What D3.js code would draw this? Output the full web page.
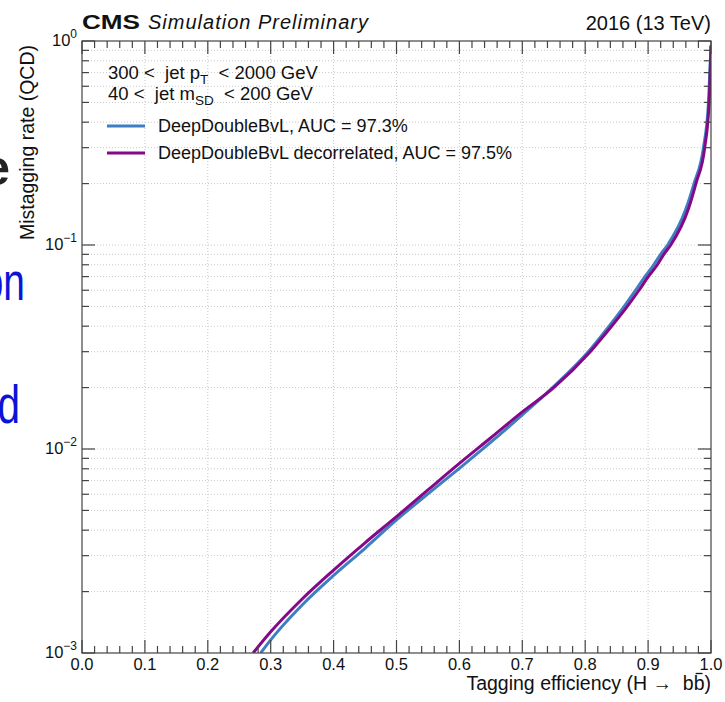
<!DOCTYPE html>
<html>
<head>
<meta charset="utf-8">
<script src="https://cdnjs.cloudflare.com/ajax/libs/d3/7.8.5/d3.min.js"></script>
<style>
  body { margin: 0; background: #fff; }
  text { font-family: "Liberation Sans", Arial, Helvetica, sans-serif; fill: #111; white-space: pre; }
</style>
</head>
<body>
<div id="chart"></div>
<script>
// ROC curves (signal efficiency vs QCD mistag rate)
var effNominal = [0.284, 0.30, 0.35, 0.40, 0.45, 0.50, 0.55, 0.60, 0.65, 0.70, 0.748, 0.805, 0.838, 0.862, 0.880, 0.895, 0.909, 0.920, 0.931, 0.960, 0.973, 0.988, 0.996, 1.0];
var mistagNominal = [1.0e-3, 1.16e-3, 1.72e-3, 2.4e-3, 3.26e-3, 4.49e-3, 6.03e-3, 8.04e-3, 1.08e-2, 1.47e-2, 2.0e-2, 3.0e-2, 4.0e-2, 5.0e-2, 6.0e-2, 7.0e-2, 8.0e-2, 9.0e-2, 0.1, 0.15, 0.2, 0.3, 0.5, 0.95];

var effDecorr = [0.272, 0.30, 0.35, 0.40, 0.45, 0.50, 0.55, 0.60, 0.65, 0.70, 0.750, 0.808, 0.842, 0.867, 0.8855, 0.9003, 0.9147, 0.925, 0.936, 0.964, 0.976, 0.990, 0.997, 1.0];
var mistagDecorr = [1.0e-3, 1.27e-3, 1.84e-3, 2.55e-3, 3.47e-3, 4.66e-3, 6.3e-3, 8.5e-3, 1.135e-2, 1.52e-2, 2.0e-2, 3.0e-2, 4.0e-2, 5.0e-2, 6.0e-2, 7.0e-2, 8.0e-2, 9.0e-2, 0.1, 0.15, 0.2, 0.3, 0.5, 0.95];

var seriesNames = ["DeepDoubleBvL, AUC = 97.3%", "DeepDoubleBvL decorrelated, AUC = 97.5%"];
var seriesColors = ["#3d7fc1", "#85088a"];
var xTicks = [0.0, 0.1, 0.2, 0.3, 0.4, 0.5, 0.6, 0.7, 0.8, 0.9, 1.0];
var yDecades = [1e-3, 1e-2, 1e-1, 1];
var yExponents = ["\u22123", "\u22122", "\u22121", "0"];

var svgWidth = 725, svgHeight = 702;
var plot = { left: 82, right: 711, top: 41, bottom: 653 };

var svg = d3.select("#chart").append("svg")
    .attr("width", svgWidth)
    .attr("height", svgHeight);

var x = d3.scaleLinear().domain([0, 1]).range([plot.left, plot.right]);
var y = d3.scaleLog().domain([1e-3, 1]).range([plot.bottom, plot.top]);

// minor positions
var xMinor = d3.range(0, 1.0001, 0.02).filter(function(v){ return Math.abs(v * 10 - Math.round(v * 10)) > 1e-6; });
var yMinor = [];
[1e-3, 1e-2, 1e-1].forEach(function(d){ for (var k = 2; k <= 9; k++) yMinor.push(d * k); });

// bits of the slide behind the plot, cut at the left edge
svg.append("text").attr("x", 10).attr("y", 185).attr("text-anchor", "end")
    .style("font-size", "50px").style("font-weight", "bold").style("fill", "#222").text("e");
svg.append("text").attr("transform", "translate(25,300) scale(0.72,1)").attr("text-anchor", "end")
    .style("font-size", "54px").style("fill", "#0a14d8").text("on");
svg.append("text").attr("transform", "translate(20,423) scale(0.75,1)").attr("text-anchor", "end")
    .style("font-size", "54px").style("fill", "#0a14d8").text("d");

// grid
var grid = svg.append("g").attr("stroke", "#c8c8c8").attr("stroke-width", 1).attr("stroke-dasharray", "1,2");
grid.selectAll(".gx").data(xTicks.slice(1, -1)).enter().append("line")
    .attr("x1", d => x(d)).attr("x2", d => x(d))
    .attr("y1", plot.top).attr("y2", plot.bottom);
grid.selectAll(".gy").data(yMinor.concat([1e-2, 1e-1])).enter().append("line")
    .attr("x1", plot.left).attr("x2", plot.right)
    .attr("y1", d => y(d)).attr("y2", d => y(d));

// curves
svg.append("clipPath").attr("id", "clip").append("rect")
    .attr("x", plot.left).attr("y", plot.top)
    .attr("width", plot.right - plot.left).attr("height", plot.bottom - plot.top);

var line = d3.line()
    .x(d => x(d[0]))
    .y(d => y(d[1]))
    .curve(d3.curveMonotoneX);

var curves = [
    d3.zip(effNominal, mistagNominal),
    d3.zip(effDecorr, mistagDecorr)
];
svg.append("g").attr("clip-path", "url(#clip)")
    .selectAll("path").data(curves).enter().append("path")
    .attr("d", line)
    .attr("fill", "none")
    .attr("stroke", (d, i) => seriesColors[i])
    .attr("stroke-width", 3);

// frame and ticks
var axisColor = "#444";
svg.append("rect")
    .attr("x", plot.left).attr("y", plot.top)
    .attr("width", plot.right - plot.left).attr("height", plot.bottom - plot.top)
    .attr("fill", "none").attr("stroke", axisColor).attr("stroke-width", 1.2);

var ticks = svg.append("g").attr("stroke", axisColor).attr("stroke-width", 1.2);
function vTicks(data, len) {
    data.forEach(function(v){
        ticks.append("line").attr("x1", x(v)).attr("x2", x(v)).attr("y1", plot.bottom).attr("y2", plot.bottom - len);
        ticks.append("line").attr("x1", x(v)).attr("x2", x(v)).attr("y1", plot.top).attr("y2", plot.top + len);
    });
}
function hTicks(data, len) {
    data.forEach(function(v){
        ticks.append("line").attr("y1", y(v)).attr("y2", y(v)).attr("x1", plot.left).attr("x2", plot.left + len);
        ticks.append("line").attr("y1", y(v)).attr("y2", y(v)).attr("x1", plot.right).attr("x2", plot.right - len);
    });
}
vTicks(xTicks, 13);
vTicks(xMinor, 7);
hTicks(yDecades, 13);
hTicks(yMinor, 7);

// tick labels
svg.append("g").selectAll("text").data(xTicks).enter().append("text")
    .attr("x", d => x(d)).attr("y", 670)
    .attr("text-anchor", "middle")
    .style("font-size", "16.5px")
    .text(d => d3.format(".1f")(d));

var yl = svg.append("g").selectAll("text").data(yDecades).enter().append("text")
    .attr("x", 77).attr("y", d => y(d) + 5)
    .attr("text-anchor", "end")
    .style("font-size", "16.5px");
yl.append("tspan").text("10");
yl.append("tspan").attr("dy", -8).style("font-size", "12px").text((d, i) => yExponents[i]);

// axis titles
var xTitleText = "Tagging efficiency (H \u2192  bb)";
var xTitle = svg.append("text")
    .attr("x", 711).attr("y", 690)
    .attr("text-anchor", "end")
    .style("font-size", "19.5px")
    .text(xTitleText);
// bar over the second b
var barChar = xTitle.node().getExtentOfChar(xTitleText.length - 2);
svg.append("line")
    .attr("x1", barChar.x + 2).attr("x2", barChar.x + barChar.width - 2)
    .attr("y1", 690 - 16.5).attr("y2", 690 - 16.5)
    .attr("stroke", "#111").attr("stroke-width", 1.3);

svg.append("text")
    .attr("transform", "translate(34,45) rotate(-90)")
    .attr("text-anchor", "end")
    .style("font-size", "19.5px")
    .text("Mistagging rate (QCD)");

// header
svg.append("text").attr("x", 82).attr("y", 29)
    .attr("textLength", 58).attr("lengthAdjust", "spacingAndGlyphs")
    .style("font-size", "21px").style("font-weight", "bold").text("CMS");
svg.append("text").attr("x", 148).attr("y", 29)
    .style("font-size", "20px").style("font-style", "italic").style("letter-spacing", "1px")
    .text("Simulation Preliminary");
svg.append("text").attr("x", 711).attr("y", 30).attr("text-anchor", "end")
    .style("font-size", "20px").text("2016 (13 TeV)");

// selection text
var sel1 = svg.append("text").attr("x", 108).attr("y", 79).style("font-size", "18.5px");
sel1.append("tspan").text("300 <  jet p");
sel1.append("tspan").attr("dy", 5).style("font-size", "13.5px").text("T");
sel1.append("tspan").attr("dy", -5).text("  < 2000 GeV");
var sel2 = svg.append("text").attr("x", 108).attr("y", 100).style("font-size", "18.5px");
sel2.append("tspan").text("40 <  jet m");
sel2.append("tspan").attr("dy", 5).style("font-size", "13.5px").text("SD");
sel2.append("tspan").attr("dy", -5).text("  < 200 GeV");

// legend
var legend = svg.append("g").selectAll("g").data(seriesNames).enter().append("g")
    .attr("transform", (d, i) => `translate(0, ${126 + i * 27})`);
legend.append("line")
    .attr("x1", 107).attr("x2", 145).attr("y1", 0).attr("y2", 0)
    .attr("stroke", (d, i) => seriesColors[i]).attr("stroke-width", 3);
legend.append("text")
    .attr("x", 158).attr("y", 6)
    .style("font-size", "18px")
    .text(d => d);
</script>
</body>
</html>
